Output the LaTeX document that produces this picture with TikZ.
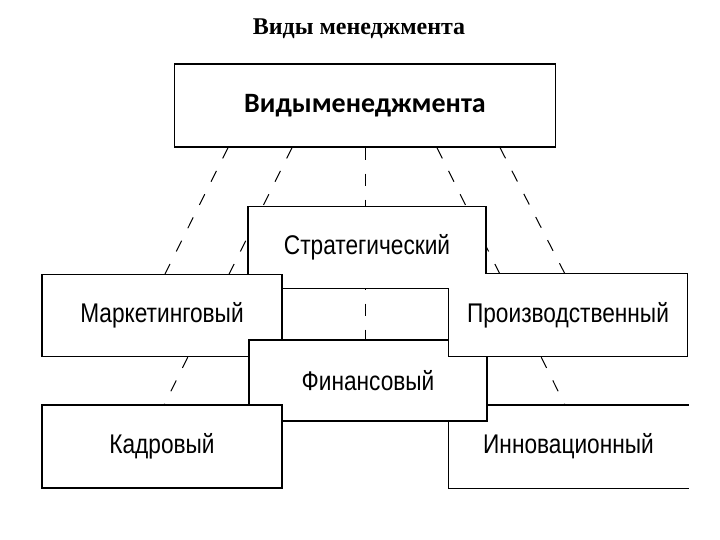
\documentclass[tikz,border=0pt]{standalone}
\usepackage{fontspec}
\setmainfont{Liberation Serif}
\newfontfamily\boxfont[FakeStretch=0.84]{Liberation Sans}
\newfontfamily\headfont{Carlito}
\begin{document}
\begin{tikzpicture}[x=1pt,y=-1pt,
    box/.style={draw,fill=white,line width=1.3pt,minimum width=238pt,minimum height=82pt,inner sep=0pt,
      font=\boxfont\fontsize{27}{31}\selectfont},
    bare/.style={box,draw=none},
    link/.style={line width=1pt,dash pattern=on 12pt off 14pt}]
    \useasboundingbox (0,0) rectangle (720,540);
    \node (title) at (359,29) {\fontsize{24}{28}\selectfont\bfseries Виды менеджмента};
    \node (top) at (365,105.5) [box,minimum width=381pt,minimum height=83pt,
      font=\headfont\fontsize{28}{32}\selectfont\bfseries] {Видыменеджмента};
    % dashed links, behind the boxes
    \draw[link] ([xshift=-137pt]top.south) -- (165,274) coordinate (m);
    \draw[link] ([xshift=-73pt]top.south) -- (164,405) coordinate (k);
    \draw[link] (top.south) -- (365,340) coordinate (f);
    \draw[link] ([xshift=72pt]top.south) -- (565,405) coordinate (i);
    \draw[link] ([xshift=135pt]top.south) -- (565,274) coordinate (p);
    \node (strat) at (367,247.5) [box] {Стратегический};
    \node (market) at (162,315.5) [box,minimum width=240pt] {Маркетинговый};
    \node (innov) at (568.5,446.5) [bare,minimum width=239pt] {Инновационный};
    \draw[line width=1.3pt] (innov.north east) -- (innov.north west) -- (innov.south west) -- (innov.south east);
    \node (fin) at (368,380.5) [box,minimum height=81pt] {Финансовый};
    \node (prod) at (568,315) [bare] {Производственный};
    \draw[line width=1.3pt] (strat.south -| prod.west) -- (prod.south west) -- (prod.south east)
      -- (prod.north east) -- (prod.north -| strat.east);
    \node (kadr) at (162,446.5) [box,minimum width=240pt,minimum height=83pt] {Кадровый};
\end{tikzpicture}
\end{document}
